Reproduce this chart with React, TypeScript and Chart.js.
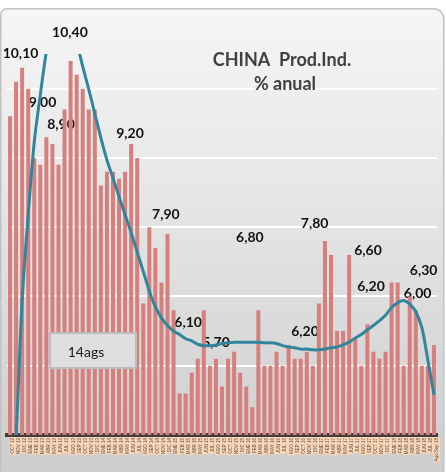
import React, { useEffect, useRef } from "react";
import { Chart, registerables } from "chart.js";

Chart.register(...registerables);

// ---- data ----
const categories = [
  "OCT 12", "NOV 12", "DIC 12",
  "ENE 13", "FEB 13", "MAR 13", "ABR 13", "MAY 13", "JUN 13", "JUL 13", "AGO 13", "SEP 13", "OCT 13", "NOV 13", "DIC 13",
  "ENE 14", "FEB 14", "MAR 14", "ABR 14", "MAY 14", "JUN 14", "JUL 14", "AGO 14", "SEP 14", "OCT 14", "NOV 14", "DIC 14",
  "ENE 15", "FEB 15", "MAR 15", "ABR 15", "MAY 15", "JUN 15", "JUL 15", "AGO 15", "SEP 15", "OCT 15", "NOV 15", "DIC 15",
  "ENE 16", "FEB 16", "MAR 16", "ABR 16", "MAY 16", "JUN 16", "JUL 16", "AGO 16", "SEP 16", "OCT 16", "NOV 16", "DIC 16",
  "ENE 17", "FEB 17", "MAR 17", "ABR 17", "MAY 17", "JUN 17", "JUL 17", "AGO 17", "SEP 17", "OCT 17", "NOV 17", "DIC 17",
  "ENE 18", "FEB 18", "MAR 18", "ABR 18", "MAY 18", "JUN 18", "JUL 18", "Ago/Sep 18",
];

const production = [
  9.6, 10.1, 10.3, 10.0, 9.0, 8.9, 9.3, 9.2, 8.9, 9.7, 10.4, 10.2, 10.0, 9.7, 9.7, 8.6, 8.8, 8.8, 8.7, 8.8, 9.2, 9.0, 6.9, 8.0,
  7.7, 7.2, 7.9, 6.8, 5.6, 5.6, 5.9, 6.1, 6.8, 6.0, 6.1, 5.7, 6.1, 6.2, 5.9, 5.7, 5.4, 6.8, 6.0, 6.0, 6.2, 6.0, 6.3, 6.1,
  6.1, 6.2, 6.0, 6.9, 7.8, 7.6, 6.5, 6.5, 7.6, 6.4, 6.0, 6.6, 6.2, 6.1, 6.2, 7.2, 7.2, 6.0, 7.0, 6.8, 6.0, 6.0, 6.3,
];

const trend = [
  3.9, 5.0, 6.95, 8.18, 9.23, 9.91, 10.53, 10.92, 11.11, 11.14, 11.0, 10.68, 10.32, 9.99, 9.64, 9.29, 8.97, 8.71, 8.44, 8.18,
  7.92, 7.64, 7.36, 7.08, 6.85, 6.69, 6.58, 6.5, 6.45, 6.39, 6.36, 6.31, 6.29, 6.29, 6.3, 6.32, 6.33, 6.34, 6.34, 6.34,
  6.34, 6.34, 6.33, 6.33, 6.32, 6.29, 6.27, 6.26, 6.24, 6.24, 6.23, 6.23, 6.24, 6.26, 6.27, 6.3, 6.34, 6.4, 6.45, 6.52,
  6.58, 6.65, 6.73, 6.84, 6.91, 6.94, 6.89, 6.78, 6.55, 6.08, 5.58,
];

const yMin = 5;
const yMax = 10.5;
const yStep = 1;

// value labels written on the chart (text, category position, level)
const noteTexts = ["10,10", "10,40", "9,00", "8,90", "9,20", "7,90", "6,80", "7,80", "6,60", "6,20", "6,30", "6,00", "6,10", "5,70", "6,20"];
const noteAt = [1.73, 9.9, 5.36, 8.42, 19.8, 25.74, 39.6, 50.3, 59.1, 59.6, 68.3, 67.3, 29.4, 34.0, 48.7];
const noteLevel = [10.51, 10.81, 9.8, 9.48, 9.35, 8.19, 7.85, 8.05, 7.66, 7.14, 7.37, 7.05, 6.63, 6.34, 6.49];

const titleLines = ["CHINA  Prod.Ind.", "% anual"];
const boxText = "14ags";

// ---- plugins ----
const backgroundPlugin = {
  id: "cardBackground",
  beforeDraw(chart: any) {
    const { ctx, width, height } = chart;
    ctx.save();
    ctx.fillStyle = "#ffffff";
    ctx.fillRect(0, 0, width, height);
    const g = ctx.createLinearGradient(0, 8, 0, height);
    g.addColorStop(0, "#f6f6f6");
    g.addColorStop(0.5, "#e2e2e2");
    g.addColorStop(1, "#cdcdcd");
    ctx.beginPath();
    ctx.roundRect(0.75, 8.75, width - 3, height, [6, 10, 0, 0]);
    ctx.fillStyle = g;
    ctx.fill();
    ctx.strokeStyle = "#c2c2c2";
    ctx.lineWidth = 1.5;
    ctx.stroke();
    ctx.restore();
  },
};

const textPlugin = {
  id: "chartTexts",
  beforeDatasetsDraw(chart: any) {
    const { ctx } = chart;
    const xs = chart.scales.x;
    const ys = chart.scales.y;
    ctx.save();
    ctx.textAlign = "center";
    ctx.textBaseline = "middle";
    // title
    ctx.fillStyle = "#404040";
    ctx.font = "bold 18px Lato";
    ctx.fillText(titleLines[0], 282, 60);
    ctx.fillText(titleLines[1], 285, 84);
    // value notes
    ctx.fillStyle = "#111111";
    ctx.font = "bold 14px Lato";
    noteTexts.forEach((t, i) => {
      ctx.fillText(t, xs.getPixelForValue(noteAt[i]), ys.getPixelForValue(noteLevel[i]));
    });
    ctx.restore();
  },
  afterDatasetsDraw(chart: any) {
    const { ctx } = chart;
    ctx.save();
    ctx.fillStyle = "#dedede";
    ctx.fillRect(50, 333, 86, 35);
    ctx.strokeStyle = "#bdbdbd";
    ctx.lineWidth = 2;
    ctx.strokeRect(50, 333, 86, 35);
    ctx.fillStyle = "#1a1a1a";
    ctx.font = "14px Lato";
    ctx.textAlign = "center";
    ctx.textBaseline = "middle";
    ctx.fillText(boxText, 86, 352);
    ctx.restore();
  },
};

export default function App() {
  const ref = useRef<HTMLCanvasElement | null>(null);

  useEffect(() => {
    if (!ref.current) return;
    const chart = new Chart(ref.current, {
      type: "bar",
      data: {
        labels: categories,
        datasets: [
          {
            type: "line",
            label: "Tendencia",
            data: trend,
            borderColor: "#31859c",
            borderWidth: 3,
            pointRadius: 0,
            tension: 0.3,
            fill: false,
            order: 0,
          } as any,
          {
            type: "bar",
            label: "Prod.Ind.",
            data: production,
            backgroundColor: "#d67f7c",
            borderWidth: 0,
            categoryPercentage: 1,
            barPercentage: 0.66,
            order: 1,
          },
        ],
      },
      options: {
        animation: false,
        responsive: false,
        devicePixelRatio: 1,
        layout: { padding: { left: 7, right: 9, top: 54, bottom: 0 } },
        plugins: {
          legend: { display: false },
          title: { display: false },
          tooltip: { enabled: false },
        },
        scales: {
          x: {
            z: 1,
            offset: true,
            grid: { display: false, drawTicks: false },
            border: { display: true, color: "#3d3d3d", width: 4 },
            ticks: {
              autoSkip: false,
              maxRotation: 90,
              minRotation: 90,
              padding: 3,
              color: "#555555",
              font: { size: 4.5, family: "Liberation Sans" },
              showLabelBackdrop: true,
              backdropColor: "#fcd5b4",
              backdropPadding: { top: 0.5, bottom: 0.5, left: 1, right: 1 },
            },
            afterFit: (s: any) => {
              s.height = 37;
            },
          },
          y: {
            min: yMin,
            max: yMax,
            ticks: { display: false, stepSize: yStep },
            grid: {
              drawTicks: false,
              lineWidth: 2,
              color: (c: any) =>
                c.tick && Number.isInteger(c.tick.value) && c.tick.value > yMin ? "#ffffff" : "rgba(0,0,0,0)",
            },
            border: { display: false },
            afterFit: (s: any) => {
              s.width = 0;
            },
          },
        },
      },
      plugins: [backgroundPlugin, textPlugin],
    });
    return () => chart.destroy();
  }, []);

  return (
    <div style={{ position: "absolute", left: 0, top: 0, width: 446, height: 472 }}>
      <canvas ref={ref} width={446} height={472} style={{ display: "block" }} />
    </div>
  );
}
